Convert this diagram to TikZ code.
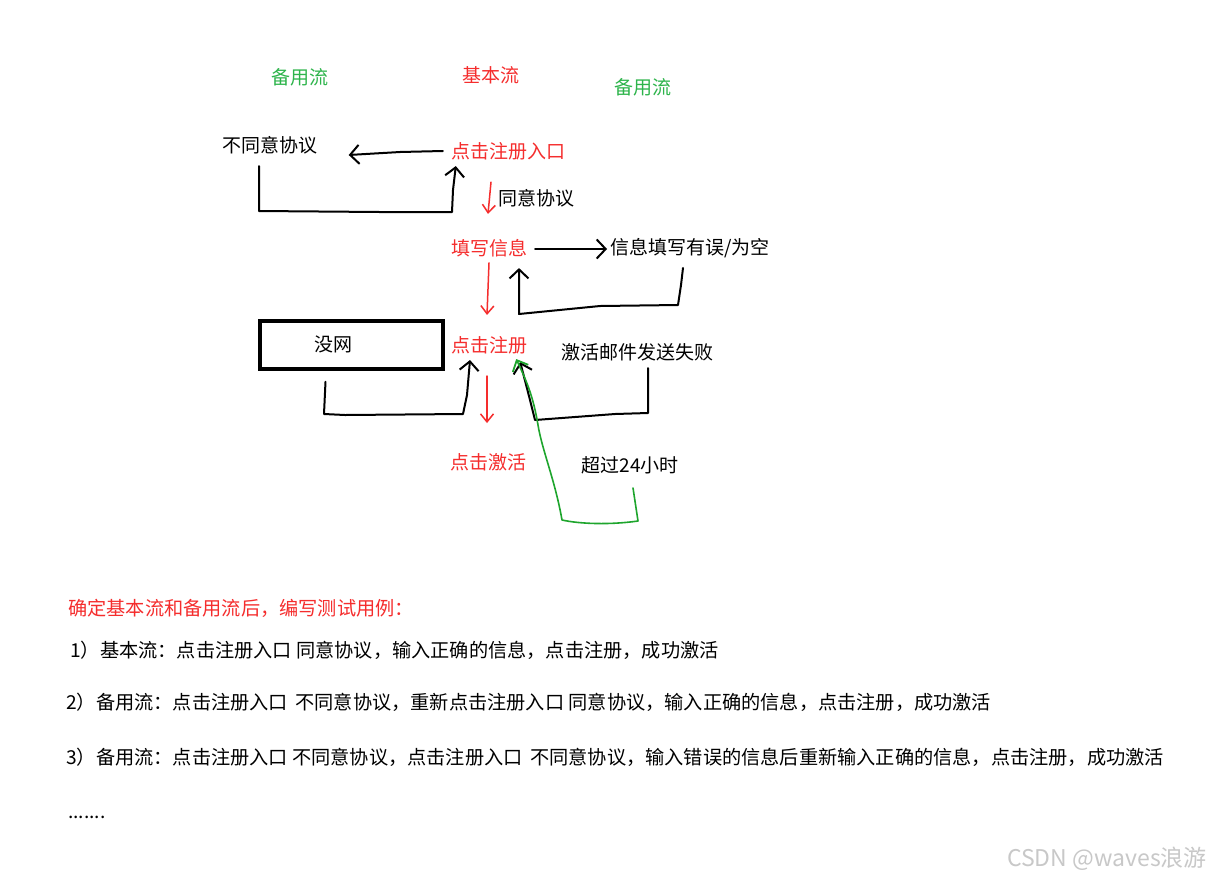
\documentclass[tikz,border=0pt]{standalone}
\usepackage{fontspec}
\setmainfont{Noto Sans CJK SC}
\usetikzlibrary{arrows.meta,calc}
\definecolor{myred}{RGB}{245,45,45}
\definecolor{mygreen}{RGB}{45,180,75}
\definecolor{linegreen}{RGB}{30,165,45}
\definecolor{wm}{RGB}{200,200,200}
\begin{document}
\begin{tikzpicture}[x=1pt,y=-1pt,
  txt/.style={font=\fontsize{19}{21}\selectfont, inner sep=0pt},
  case/.style={font=\fontsize{19.2}{21}\selectfont, inner sep=0pt, anchor=west},
  red txt/.style={txt, text=myred},
  green txt/.style={txt, text=mygreen},
  line/.style={line width=2pt, black, line join=round, line cap=round},
  arr/.style={line, -{Straight Barb[length=9pt,width=19pt,line width=2pt]}},
  redarr/.style={line width=1.5pt, myred, line cap=round, -{Straight Barb[length=8pt,width=13pt,line width=1.5pt]}},
  greenarr/.style={line width=1.6pt, linegreen, line join=round, line cap=round, -{Straight Barb[length=9pt,width=17pt,line width=1.8pt]}},
  boxstyle/.style={draw=black, line width=3.5pt, minimum width=183pt, minimum height=48pt, inner sep=0pt}
]
\useasboundingbox (0,0) rectangle (1210,879);
\fill[white] (0,0) rectangle (1210,879);

% headers
\node[green txt] (altL) at (300,77) {备用流};
\node[red txt] (basic) at (491,75) {基本流};
\node[green txt] (altR) at (643,87) {备用流};

% flow nodes
\node[txt] (disagree) at (270,145) {不同意协议};
\node[red txt] (entry) at (508,151) {点击注册入口};
\node[txt] (agree) at (536,198) {同意协议};
\node[red txt] (fill) at (489,248) {填写信息};
\node[txt] (err) at (690,248) {信息填写有误/为空};
\node[boxstyle] (nonet) at (351.5,345) {};
\node[txt] (nonettxt) at (333,344) {没网};
\node[red txt] (reg) at (489,345) {点击注册};
\node[txt] (mailfail) at (637,352) {激活邮件发送失败};
\node[red txt] (act) at (488,462) {点击激活};
\node[txt] (over) at (630,465) {超过24小时};

% connectors
\draw[arr] ($(entry.west)+(-8,0)$) -- (400,152) -- ($(disagree.east)+(31,10)$);
\draw[arr] ($(disagree.south)+(-11,12)$) -- (259,211) -- (380,212) -- (452,212) -- (453,190) -- ($(entry.south west)+(5,6)$);
\draw[redarr] ($(entry.south)+(-17,22)$) -- ($(fill.north)+(-1,-25)$);
\draw[arr] ($(fill.east)+(8,1)$) -- ($(err.west)+(-3,1)$);
\draw[arr] ($(err.south)+(-7,10)$) -- (681,285) -- (678,305) -- (600,306) -- (519,314) -- ($(fill.south)+(30,11)$);
\draw[redarr] ($(fill.north)+(0,24)$) -- ($(reg.north)+(-2,-21)$);
\draw[arr] ($(nonet.south)+(-26,11)$) -- (324,414) -- (345,415) -- (463,414) -- (467,395) -- ($(reg.south)+(-19,6)$);
\draw[redarr] ($(reg.south)+(-2,22)$) -- ($(act.north)+(-1,-30)$);
\draw[arr] ($(mailfail.south)+(11,7)$) -- (648,413) -- (615,414) -- (535,420) -- (530,400) -- ($(reg.south east)+(-7,8)$);
\draw[greenarr] ($(over.south)+(3,14)$) -- (638,521) .. controls (610,525) and (580,524) .. (562,520)
  .. controls (555,480) and (542,450) .. (538,425)
  .. controls (533,395) and (526,380) .. ($(reg.south east)+(-11,5)$);

% test cases
\node[case, text=myred] (title) at (68,608) {确定基本流和备用流后，编写测试用例：};
\node[case] (case1) at (70,650) {1）基本流：点击注册入口 同意协议，输入正确的信息，点击注册，成功激活};
\node[case] (case2) at (66,702) {2）备用流：点击注册入口 \,不同意协议，重新点击注册入口 同意协议，输入正确的信息，点击注册，成功激活};
\node[case] (case3) at (66,757) {3）备用流：点击注册入口 不同意协议，点击注册入口 \,不同意协议，输入错误的信息后重新输入正确的信息，点击注册，成功激活};
\node[case] (more) at (68,817) {.......};

\node[font=\fontsize{23}{25}\selectfont, text=wm, inner sep=0pt, anchor=east] (watermark) at (1207,859) {CSDN @waves浪游};
\end{tikzpicture}
\end{document}
